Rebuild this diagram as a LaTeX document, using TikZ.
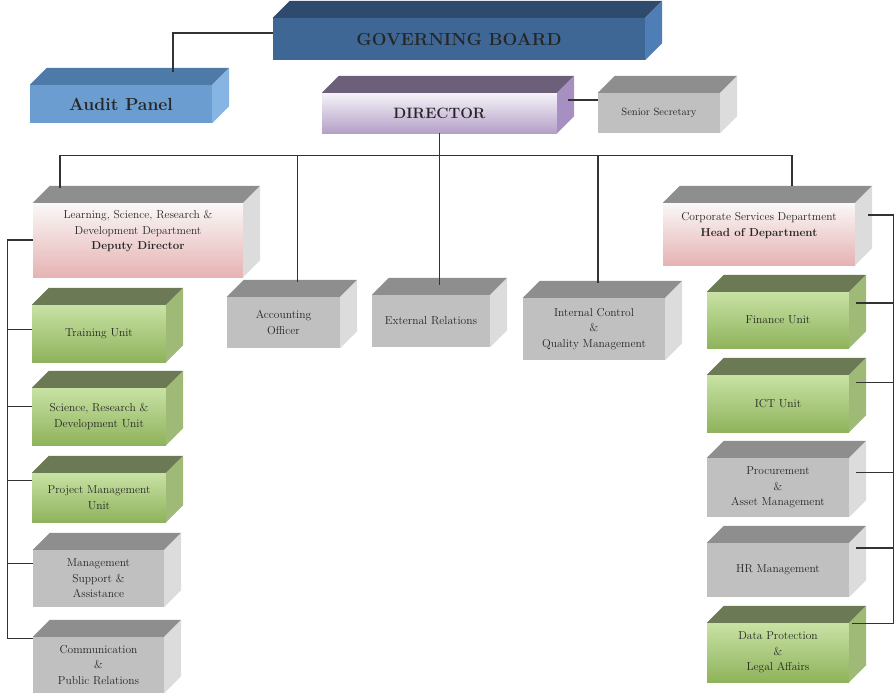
\documentclass[tikz,border=0pt]{standalone}
\usetikzlibrary{calc}
\definecolor{gbfront}{HTML}{3F6796}
\definecolor{gbtop}{HTML}{2E4A6D}
\definecolor{gbside}{HTML}{4F7DB6}
\definecolor{aufront}{HTML}{6B9DD1}
\definecolor{autop}{HTML}{4E7AA7}
\definecolor{auside}{HTML}{86B4E3}
\definecolor{dirup}{HTML}{F5F2F8}
\definecolor{dirlow}{HTML}{B5A1C8}
\definecolor{dirtop}{HTML}{6C5F79}
\definecolor{dirside}{HTML}{A690C1}
\definecolor{greyfront}{HTML}{C0C0C0}
\definecolor{greytop}{HTML}{8E8E8E}
\definecolor{greyside}{HTML}{DCDCDC}
\definecolor{pinkup}{HTML}{FAF8F8}
\definecolor{pinklow}{HTML}{E6B3B3}
\definecolor{greenup}{HTML}{C8E2A4}
\definecolor{greenlow}{HTML}{8FB35C}
\definecolor{greentop}{HTML}{6B7A55}
\definecolor{greenside}{HTML}{9FB976}
\begin{document}
\begin{tikzpicture}[x=1pt,y=1pt,
		box/.style={rectangle,inner sep=0pt,align=center,text=black!85,font=\fontsize{11.5}{15.5}\selectfont},
		greybox/.style={box,fill=greyfront},
		pinkbox/.style={box,top color=pinkup,bottom color=pinklow},
		greenbox/.style={box,top color=greenup,bottom color=greenlow},
		link/.style={draw=black!80,line width=1.1pt}
		]
		\useasboundingbox (0,0) rectangle (895,-693);
		% top level
		\node[box,fill=gbfront,minimum width=372,minimum height=42,font=\fontsize{17.5}{20}\selectfont\bfseries,text=black!85] (gb) at (459,-39) {GOVERNING BOARD};
		\node[box,fill=aufront,minimum width=182,minimum height=38,font=\fontsize{17.5}{20}\selectfont\bfseries] (audit) at (121,-104) {Audit Panel};
		\node[box,top color=dirup,bottom color=dirlow,minimum width=235,minimum height=40,font=\fontsize{15}{18}\selectfont\bfseries] (dir) at (439.5,-113) {DIRECTOR};
		\node[greybox,minimum width=122,minimum height=40,font=\fontsize{10.5}{13}\selectfont] (secr) at (659,-113) {Senior Secretary};
		% departments
		\node[pinkbox,minimum width=210,minimum height=74] (lsrd) at (138,-240) {Learning, Science, Research \&\\Development Department\\\textbf{Deputy Director}\\[4pt]};
		\node[pinkbox,minimum width=192,minimum height=62] (corp) at (759,-234) {Corporate Services Department\\\textbf{Head of Department}\\[4pt]};
		\node[greybox,minimum width=113,minimum height=51] (acc) at (283.5,-322.5) {Accounting\\Officer};
		\node[greybox,minimum width=118,minimum height=52] (ext) at (431,-321) {External Relations};
		\node[greybox,minimum width=142,minimum height=62] (intc) at (594,-329) {Internal Control\\\&\\Quality Management};
		% left units
		\node[greenbox,minimum width=134,minimum height=57] (train) at (99,-333.5) {Training Unit};
		\node[greenbox,minimum width=134,minimum height=57] (sci) at (99,-416.5) {Science, Research \&\\Development Unit};
		\node[greenbox,minimum width=134,minimum height=49] (proj) at (99,-497.5) {Project Management\\Unit};
		\node[greybox,minimum width=131,minimum height=57] (mgmt) at (98.5,-578.5) {Management\\Support \&\\Assistance};
		\node[greybox,minimum width=131,minimum height=56] (comm) at (98.5,-665) {Communication\\\&\\Public Relations};
		% right units
		\node[greenbox,minimum width=142,minimum height=56] (fin) at (778,-320) {Finance Unit};
		\node[greenbox,minimum width=142,minimum height=57] (ict) at (778,-403.5) {ICT Unit};
		\node[greybox,minimum width=142,minimum height=59] (proc) at (778,-487.5) {Procurement\\\&\\Asset Management};
		\node[greybox,minimum width=142,minimum height=54] (hr) at (778,-570) {HR Management};
		\node[greenbox,minimum width=142,minimum height=59] (data) at (778,-652.5) {Data Protection\\\&\\Legal Affairs};
		% top and side faces
		\foreach \n/\t/\s in {gb/gbtop/gbside,audit/autop/auside,dir/dirtop/dirside,secr/greytop/greyside,
			lsrd/greytop/greyside,corp/greytop/greyside,acc/greytop/greyside,ext/greytop/greyside,intc/greytop/greyside,
			train/greentop/greenside,sci/greentop/greenside,proj/greentop/greenside,mgmt/greytop/greyside,comm/greytop/greyside,
			fin/greentop/greenside,ict/greentop/greenside,proc/greytop/greyside,hr/greytop/greyside,data/greentop/greenside}{
			\fill[\t] (\n.north west) -- ++(17,17) -- ([shift={(17,17)}]\n.north east) -- (\n.north east) -- cycle;
			\fill[\s] (\n.north east) -- ++(17,17) -- ([shift={(17,17)}]\n.south east) -- (\n.south east) -- cycle;
		}
		% connectors
		\coordinate (bus) at ([yshift=-22]dir.south);
		\draw[link] ([yshift=6]gb.west) -| ($(audit.north)+(52,13)$);
		\draw[link] ([shift={(11,13)}]dir.east) -- ([yshift=13]secr.west);
		\draw[link] (dir.south) -- ($(dir.south |- ext.north)+(0,10)$);
		\draw[link] ($(lsrd.north)+(-78,15)$) |- (bus) -| ($(corp.north)+(33,17)$);
		\draw[link] ($(acc.north)+(14,15)$) |- (bus);
		\draw[link] ($(intc.north)+(4,15)$) |- (bus);
		\draw[link] (lsrd.west) -| ($(comm.north west)+(-25,-2)$) -- ([yshift=-2]comm.north west);
		\foreach \u/\s in {train/4,sci/10,proj/17,mgmt/15}
			\draw[link] ([yshift=\s]\u.west) -- ++(-25,0);
		\draw[link] ([shift={(13,19)}]corp.east) -| ($(data.east)+(44,29)$) -- ([shift={(3,29)}]data.east);
		\foreach \u/\s in {fin/17,ict/21,proc/15,hr/22}
			\draw[link] ([shift={(7,\s)}]\u.east) -- ++(37,0);
	\end{tikzpicture}
\end{document}
